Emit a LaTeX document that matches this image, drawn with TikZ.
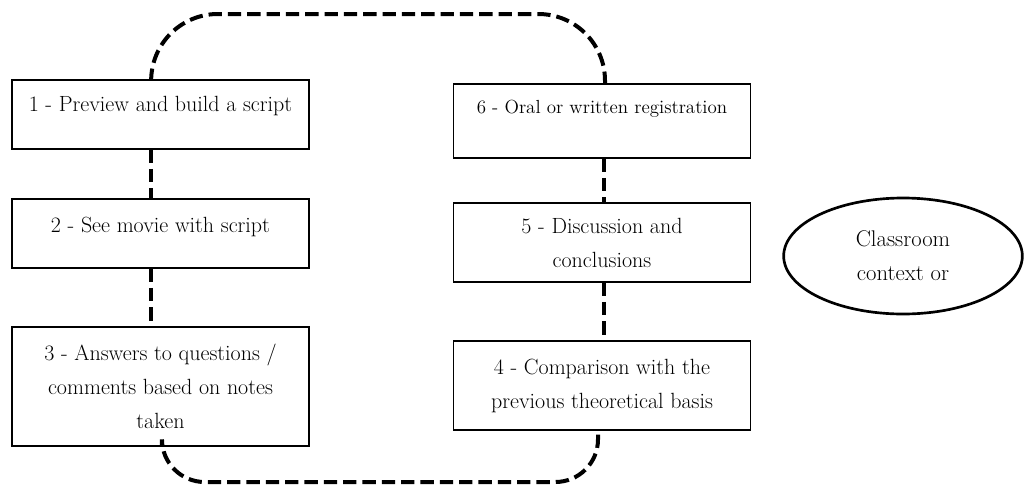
\documentclass[tikz,border=0pt]{standalone}
\usetikzlibrary{positioning}
\usetikzlibrary{shapes.geometric}

\tikzset{
  stagebox/.style={draw, line width=0.8pt, align=center, inner sep=0pt,
    minimum width=222.75pt, font=\fontsize{16.5}{25.5}\selectfont},
  dashlink/.style={line width=3pt, dash pattern=on 10pt off 4.5pt},
}

\begin{document}
\begin{tikzpicture}[x=0.75pt,y=-0.75pt]
				\useasboundingbox (0,0) rectangle (1024,486);
				\node[stagebox, text height=23.5pt, text depth=28.25pt](prev) at (160.5,114.5) {1 - Preview and build a script};
				\node[stagebox, text height=25pt, text depth=26.75pt](movie) at (160.5,233.5) {2 - See movie with script};
				\node[stagebox, minimum height=89.25pt](answ) at (160.5,386.5) {3 - Answers to questions /\\ comments based on notes\\ taken};
				\node[stagebox, minimum height=66.75pt](comp) at (602,385.5) {4 - Comparison with the\\ previous theoretical basis};
				\node[stagebox, minimum height=59.25pt](disc) at (602,242.5) {5 - Discussion and\\ conclusions};
				\node[stagebox, font=\fontsize{14.2}{23}\selectfont, text height=22pt, text depth=33.5pt](reg) at (602,121) {6 - Oral or written registration};
				\node[draw, ellipse, line width=2pt, minimum width=179pt, minimum height=87pt, inner sep=0pt, align=center, font=\fontsize{17}{25.5}\selectfont](ctx) at (903,256) {Classroom\\ context or};
				\coordinate (topR) at (605,14);
				\coordinate (botR) at (598,482);

				\draw[dashlink] ([xshift=-7.5pt]prev.south) to ([xshift=-7.5pt]movie.north);
				\draw[dashlink] ([xshift=-7.5pt]movie.south) to ([xshift=-7.5pt]answ.north);
				\draw[dashlink] ([xshift=1.5pt]reg.south) to ([xshift=1.5pt]disc.north);
				\draw[dashlink] ([xshift=1.5pt]disc.south) to ([xshift=1.5pt]comp.north);
				\draw[dashlink, rounded corners=50pt] ([xshift=-7pt]prev.north) |- (topR) to ([xshift=2.25pt]reg.north);
				\draw[dashlink, rounded corners=32pt] ([xshift=1.1pt]answ.south) |- (botR) to ([xshift=-3pt]comp.south);
			\end{tikzpicture}
\end{document}
